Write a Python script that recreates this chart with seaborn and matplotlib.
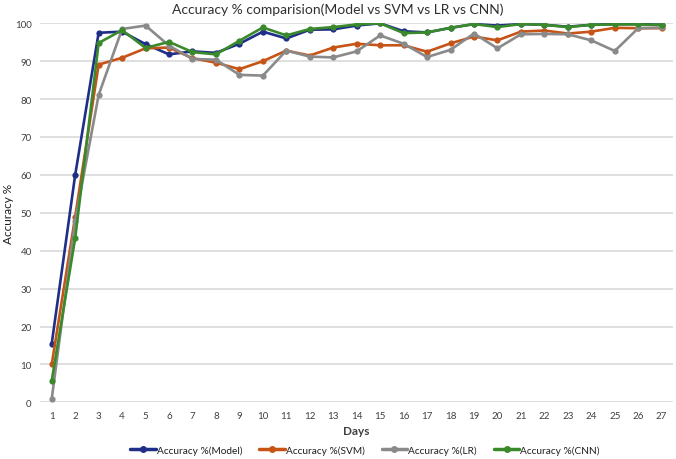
import numpy as np
import pandas as pd
import matplotlib
matplotlib.use("Agg")
import matplotlib.pyplot as plt
import seaborn as sns
from matplotlib.lines import Line2D

days = list(range(1, 28))
model = [15.5, 60, 97.5, 97.8, 94.5, 91.8, 92.6, 92.2, 94.6, 97.8, 96.0, 98.3, 98.4, 99.4, 100.0,
         97.9, 97.6, 98.8, 99.8, 99.4, 99.8, 99.6, 99.1, 99.6, 99.8, 99.8, 99.6]
svm = [10.0, 49.0, 89.1, 90.9, 93.4, 93.6, 90.8, 89.6, 87.9, 90.0, 92.8, 91.5, 93.6, 94.6, 94.2,
       94.2, 92.5, 94.7, 96.5, 95.5, 97.8, 98.1, 97.3, 97.8, 98.8, 98.7, 98.7]
lr = [0.9, 47.9, 81.1, 98.5, 99.4, 94.1, 90.6, 90.4, 86.4, 86.2, 92.8, 91.2, 91.0, 92.6, 96.8,
      94.6, 91.1, 93.0, 97.3, 93.4, 97.1, 97.2, 97.1, 95.5, 92.7, 98.7, 98.9]
cnn = [5.7, 43.3, 94.8, 98.2, 93.5, 95.1, 92.4, 91.8, 95.4, 98.9, 96.8, 98.5, 99.0, 99.7, 100.0,
       97.4, 97.6, 98.8, 99.8, 99.0, 99.8, 99.6, 99.0, 99.6, 99.7, 99.7, 99.6]
series_names = ["Accuracy %(Model)", "Accuracy %(SVM)", "Accuracy %(LR)", "Accuracy %(CNN)"]
colors = ["#1f2e86", "#c65417", "#8a8a8a", "#3a8a2c"]

df = pd.concat([
    pd.DataFrame({"Days": days, "Accuracy": vals, "Series": name})
    for name, vals in zip(series_names, [model, svm, lr, cnn])
])

sns.set_theme(style="white")
plt.rcParams["font.family"] = ["Lato", "DejaVu Sans"]

fig = plt.figure(figsize=(6.76, 4.6), dpi=100)
ax = fig.add_axes([40 / 676, 1 - 403.3 / 460, (673.4 - 40) / 676, (403.3 - 24.3) / 460])

sns.lineplot(data=df, x="Days", y="Accuracy", hue="Series", hue_order=series_names,
             palette=dict(zip(series_names, colors)), marker="o", markersize=4.5,
             markeredgewidth=0, linewidth=1.9, ax=ax, legend=False, zorder=3)

ax.set_xlim(0.5, 27.5)
ax.set_ylim(0, 100)
ax.set_xticks(days)
ax.set_yticks(range(0, 101, 10))
ax.tick_params(axis="both", labelsize=7, colors="#404040", length=0, pad=6)
ax.yaxis.grid(True, color="#d9d9d9", linewidth=1.2)
ax.xaxis.grid(False)
for s in ax.spines.values():
    s.set_visible(False)

ax.set_xlabel("Days", fontsize=8.5, fontweight="bold", color="#404040", labelpad=4)
ax.set_ylabel("Accuracy %", fontsize=8.5, color="#202020")
ax.yaxis.set_label_coords(-(40 - 9) / 633.4, 0.5)
ax.yaxis.label.set_va("center")
fig.text(0.5, 0.978, "Accuracy % comparision(Model vs SVM vs LR vs CNN)", ha="center", va="center",
         fontsize=10, color="#303030")

handles = [Line2D([0], [0], color=c, linewidth=2.5, marker="o", markersize=5, markeredgewidth=0)
           for c in colors]
fig.legend(handles, series_names, loc="center", bbox_to_anchor=(0.54, 0.019), ncol=4,
           frameon=False, fontsize=7.3, handlelength=2.5, handletextpad=0.1, columnspacing=1.7,
           labelcolor="#202020")

fig.savefig("out.png", dpi=100)
